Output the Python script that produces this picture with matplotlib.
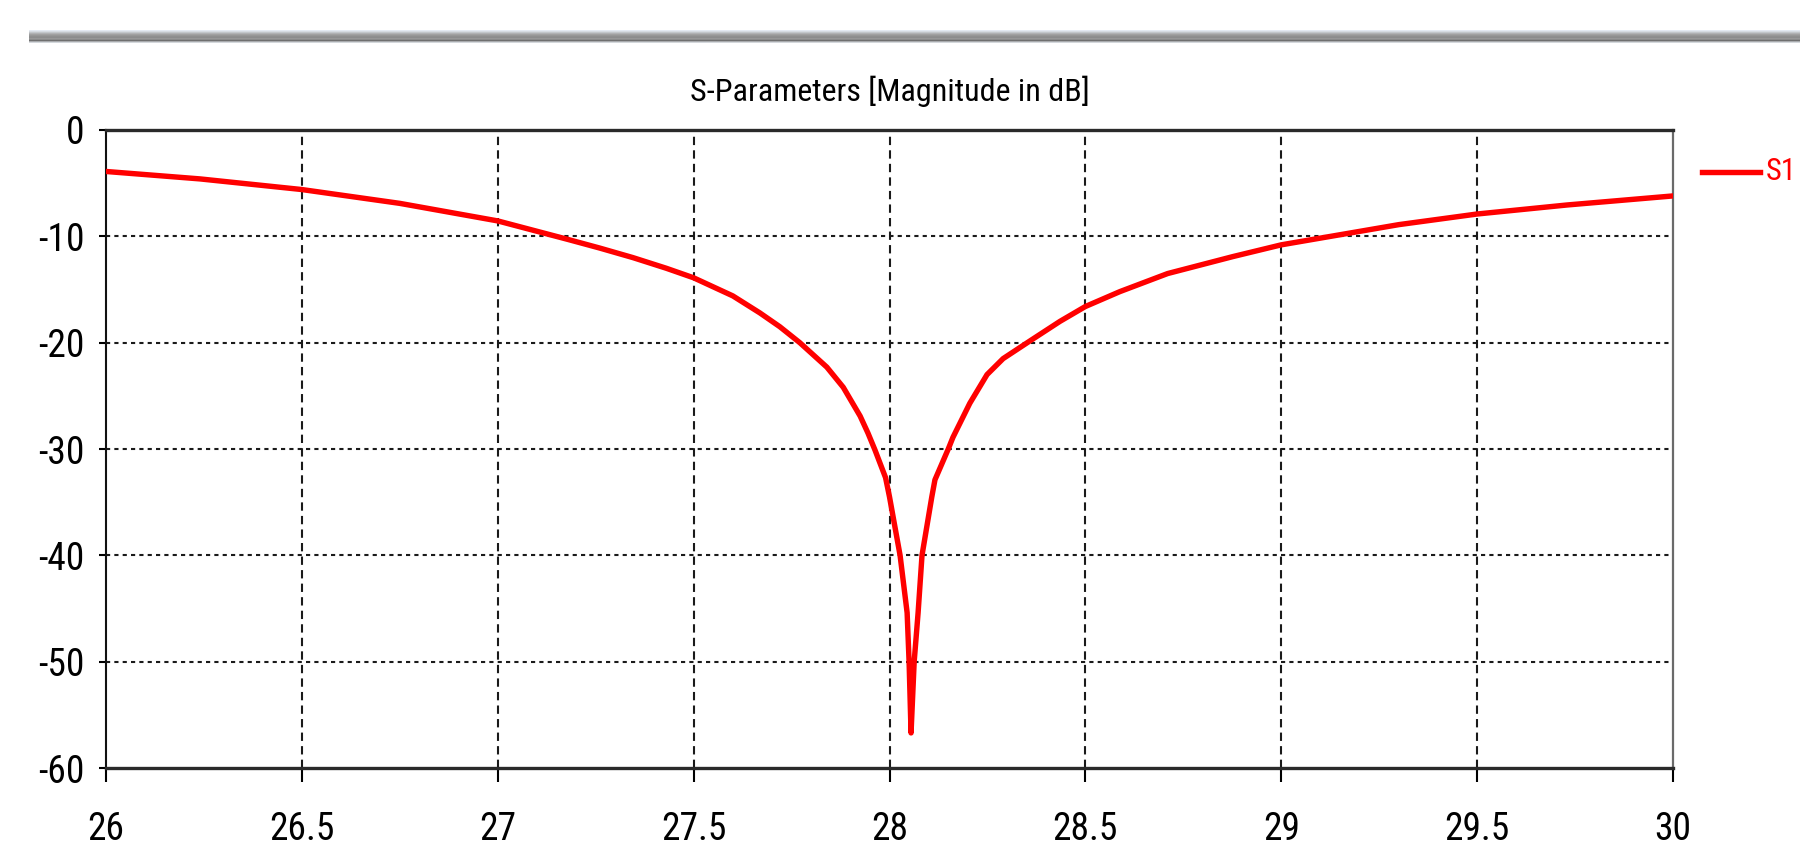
import numpy as np
import matplotlib
matplotlib.use("Agg")
import matplotlib.pyplot as plt
from matplotlib import font_manager as fm
from matplotlib.colors import to_rgb
from matplotlib.lines import Line2D

# the CST plot uses a narrow UI font, so look for a condensed face
prefs = ['Liberation Sans Narrow', 'Roboto Condensed', 'Open Sans Condensed',
         'DejaVu Sans', 'Noto Sans', 'Open Sans', 'Roboto', 'Lato', 'Inter']
cond = [f for f in fm.fontManager.ttflist
        if str(f.stretch) in ('condensed', 'semi-condensed', 'extra-condensed', 'ultra-condensed')
        or 'Narrow' in f.name or 'Condensed' in f.name]
pick = None
for p in prefs:
    hits = [f for f in cond if f.name == p]
    if hits:
        pick = hits[0]
        break
if pick is not None:
    plt.rcParams['font.family'] = [pick.name, 'DejaVu Sans']
    plt.rcParams['font.stretch'] = pick.stretch
else:
    plt.rcParams['font.family'] = ['DejaVu Sans']
plt.rcParams['axes.unicode_minus'] = False

# S11 magnitude (GHz, dB)
freq = [26.00, 26.24, 26.50, 26.75, 27.00, 27.18, 27.26, 27.345, 27.43, 27.50,
        27.60, 27.669, 27.72, 27.771, 27.84, 27.882, 27.925, 27.945, 27.963, 27.99,
        28.00, 28.027, 28.045, 28.050, 28.055, 28.063, 28.073, 28.083, 28.108, 28.116,
        28.15, 28.162, 28.205, 28.249, 28.29, 28.36, 28.435, 28.50, 28.588, 28.71,
        28.877, 29.00, 29.30, 29.50, 29.73, 30.00]
s11 = [-3.9, -4.6, -5.6, -6.9, -8.55, -10.3, -11.1, -12.0, -13.0, -13.9,
       -15.6, -17.2, -18.5, -20.0, -22.3, -24.2, -26.9, -28.5, -30.1, -32.7,
       -34.5, -40.0, -45.4, -50.0, -56.7, -50.0, -45.4, -40.0, -34.5, -32.9,
       -30.0, -28.9, -25.7, -23.0, -21.5, -19.8, -18.0, -16.6, -15.2, -13.5,
       -11.9, -10.8, -8.9, -7.9, -7.05, -6.2]
trace_name = 'S1'

xticks = [26, 26.5, 27, 27.5, 28, 28.5, 29, 29.5, 30]
xlabels = ['26', '26.5', '27', '27.5', '28', '28.5', '29', '29.5', '30']
yticks = [0, -10, -20, -30, -40, -50, -60]

fig = plt.figure(figsize=(18, 8.55), dpi=100)

# window title bar strip at the top
bar = fig.add_axes([29 / 1800, 1 - 43 / 855, 1 - 29 / 1800, 13 / 855])
bar_shades = ['#e4eaf2', '#c4c8cc', '#a6a6a6', '#969696', '#8a8a8a', '#9c9c9c', '#6e6e6e', '#d4d8dc']
bar.imshow(np.array([to_rgb(c) for c in bar_shades])[:, None, :], aspect='auto',
           interpolation='bilinear', extent=[0, 1, 0, 1])
bar.axis('off')

ax = fig.add_axes([106 / 1800, 1 - 768 / 855, (1673 - 106) / 1800, (768 - 130) / 855])
ax.plot(freq, s11, color='#ff0000', lw=3.9, zorder=3)

ax.set_xlim(26, 30)
ax.set_ylim(-60, 0)
ax.set_xticks(xticks)
ax.set_xticklabels(xlabels)
ax.set_yticks(yticks)

for y in yticks[1:-1]:
    ax.axhline(y, color='#1a1a1a', lw=1.5, linestyle=(0, (2, 2)), zorder=1)
for x in xticks[1:-1]:
    ax.axvline(x, color='#1a1a1a', lw=1.5, linestyle=(0, (4, 2.5)), zorder=1)

ax.spines['top'].set_linewidth(2.4)
ax.spines['bottom'].set_linewidth(2.4)
ax.spines['top'].set_color('#2a2a2a')
ax.spines['bottom'].set_color('#2a2a2a')
ax.spines['left'].set_linewidth(1.5)
ax.spines['left'].set_color('#111111')
ax.spines['right'].set_linewidth(1.6)
ax.spines['right'].set_color('#6a6a6a')

ax.tick_params(axis='y', direction='out', length=5, width=1.5, pad=10.5, labelsize=27)
ax.tick_params(axis='x', direction='out', length=10, width=1.5, pad=21, labelsize=27)

ax.set_title('S-Parameters [Magnitude in dB]', fontsize=23, pad=21, x=(890 - 106) / (1673 - 106))

# legend key outside the plot, at the right edge like the CST window
key_y = 1 - 172 / 855
fig.add_artist(Line2D([1702 / 1800, 1760 / 1800], [key_y, key_y], color='#ff0000', lw=3.9,
                      transform=fig.transFigure))
fig.text(1766 / 1800, key_y, trace_name, color='#ff0000', fontsize=22, ha='left', va='center')

fig.savefig('out.png', dpi=100)
